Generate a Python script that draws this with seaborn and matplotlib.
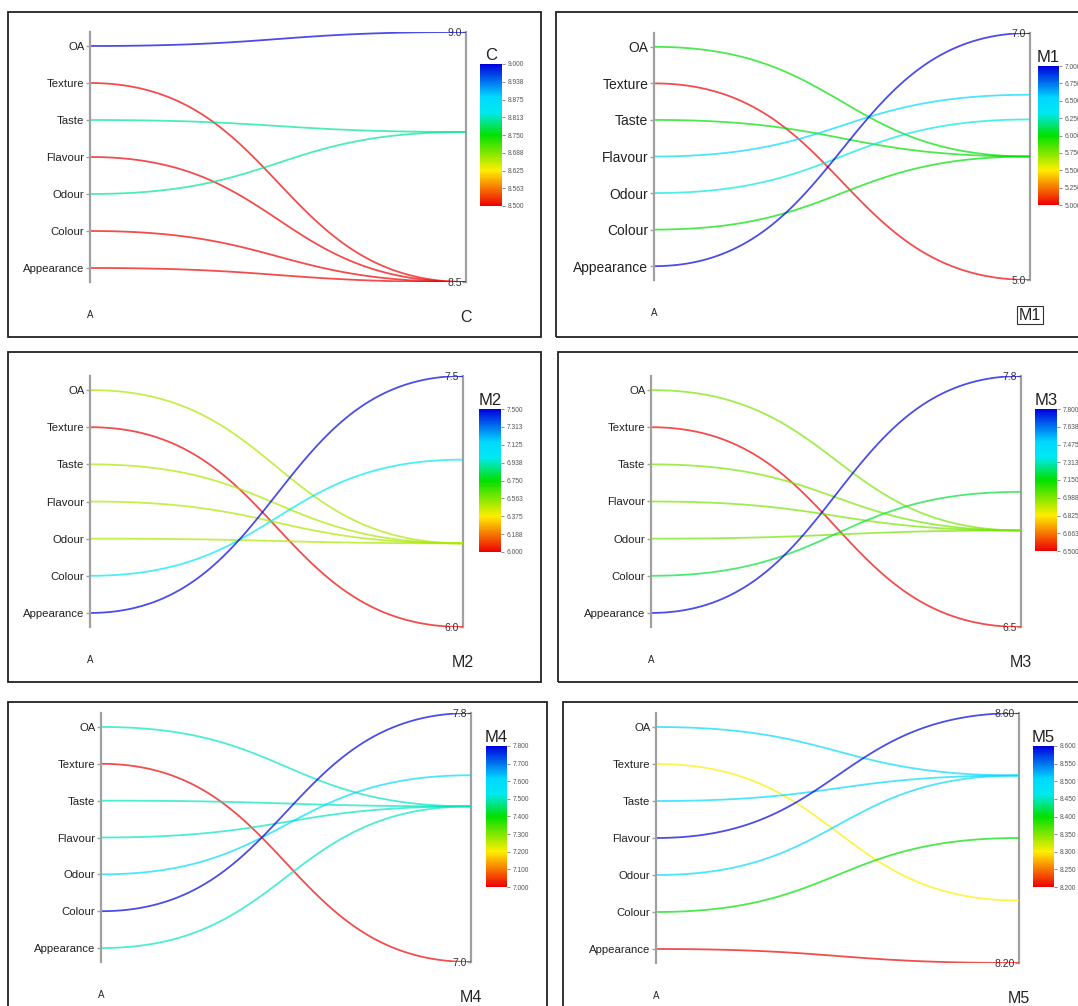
import numpy as np
import pandas as pd
import matplotlib
matplotlib.use("Agg")
import matplotlib.pyplot as plt
from matplotlib.colors import LinearSegmentedColormap, Normalize
from matplotlib.cm import ScalarMappable
from matplotlib.patches import Rectangle
from decimal import Decimal, ROUND_HALF_UP
import seaborn as sns

sns.set_style("white")
plt.rcParams['font.family'] = ['Liberation Sans', 'DejaVu Sans']

# ---------------- data ----------------
attributes = ["OA", "Texture", "Taste", "Flavour", "Odour", "Colour", "Appearance"]
samples = ["C", "M1", "M2", "M3", "M4", "M5"]
C_scores = [9.0, 8.5, 8.8, 8.5, 8.8, 8.5, 8.5]
M1_scores = [6.0, 5.0, 6.0, 6.5, 6.3, 6.0, 7.0]
M2_scores = [6.5, 6.0, 6.5, 6.5, 6.5, 7.0, 7.5]
M3_scores = [7.0, 6.5, 7.0, 7.0, 7.0, 7.2, 7.8]
M4_scores = [7.5, 7.0, 7.5, 7.5, 7.6, 7.8, 7.5]
M5_scores = [8.5, 8.3, 8.5, 8.6, 8.5, 8.4, 8.2]
scale_min = [8.5, 5.0, 6.0, 6.5, 7.0, 8.2]
scale_max = [9.0, 7.0, 7.5, 7.8, 7.8, 8.6]
axis_fmt = ["{:.1f}", "{:.1f}", "{:.1f}", "{:.1f}", "{:.1f}", "{:.2f}"]
scores = [C_scores, M1_scores, M2_scores, M3_scores, M4_scores, M5_scores]

# ---------------- layout (pixels) ----------------
W, H = 1078, 1006
layout = [
    dict(border=(8, 12, 541, 337), xl=90, xr=466, T=32, B=282, cb=(480, 502, 64, 206), fs=8.2),
    dict(border=(556, 12, 1090, 337), xl=654, xr=1030, T=33, B=280, cb=(1038, 1059, 66, 205), fs=10),
    dict(border=(8, 352, 541, 682), xl=90, xr=463, T=376, B=627, cb=(479, 501, 409, 552), fs=8.2),
    dict(border=(558, 352, 1090, 682), xl=651, xr=1021, T=376, B=627, cb=(1035, 1057, 409, 551), fs=8.2),
    dict(border=(8, 702, 547, 1020), xl=101, xr=471, T=713, B=962, cb=(486, 507, 746, 887), fs=8.2),
    dict(border=(563, 702, 1090, 1020), xl=656, xr=1019, T=713, B=963, cb=(1033, 1054, 746, 887), fs=8.2),
]

cmap = LinearSegmentedColormap.from_list(
    "rainbow_r", [(0.0, "#ee0000"), (0.25, "#ffee00"), (0.5, "#00e000"),
                  (0.66, "#00e8f0"), (0.77, "#00d8ff"), (1.0, "#0000dd")])

fig = plt.figure(figsize=(W / 100, H / 100), dpi=100)

def fig_rect(x0, x1, y0, y1):
    return [x0 / W, 1 - y1 / H, (x1 - x0) / W, (y1 - y0) / H]

def fmt3(t):
    return str(Decimal(str(round(float(t), 6))).quantize(Decimal("0.001"), rounding=ROUND_HALF_UP))

pad_frac = 0.056
n = len(attributes)
step = (1 - 2 * pad_frac) / (n - 1)
s = np.linspace(0, 1, 80)
c = 0.5

for k, (name, vals) in enumerate(zip(samples, scores)):
    L = layout[k]
    vmin, vmax = scale_min[k], scale_max[k]
    bx0, by0, bx1, by1 = L["border"]
    fig.patches.append(Rectangle((bx0 / W, 1 - by1 / H), (bx1 - bx0) / W, (by1 - by0) / H,
                                 transform=fig.transFigure, fill=False,
                                 edgecolor="#222222", linewidth=1.3))

    ax = fig.add_axes(fig_rect(L["xl"], L["xr"], L["T"], L["B"]))
    ax.set_xlim(0, 1)
    ax.set_ylim(vmin, vmax)

    cat_pos = [vmin + (1 - pad_frac - i * step) * (vmax - vmin) for i in range(n)]
    rows = []
    for i, (a, v) in enumerate(zip(attributes, vals)):
        y0, y1 = cat_pos[i], v
        xs = 3 * (1 - s) ** 2 * s * c + 3 * (1 - s) * s ** 2 * (1 - c) + s ** 3
        ys = (1 - s) ** 3 * y0 + 3 * (1 - s) ** 2 * s * y0 + 3 * (1 - s) * s ** 2 * y1 + s ** 3 * y1
        for xx, yy in zip(xs, ys):
            rows.append(dict(x=xx, y=yy, attr=a, value=v))
    df = pd.DataFrame(rows)
    sns.lineplot(data=df, x="x", y="y", hue="value", units="attr", estimator=None,
                 sort=False, palette=cmap, hue_norm=(vmin, vmax), legend=False,
                 ax=ax, linewidth=1.3, alpha=0.7)
    ax.set_xlabel("")
    ax.set_ylabel("")

    for sp in ["top", "bottom", "right"]:
        ax.spines[sp].set_visible(False)
    ax.spines["left"].set_color("#a0a0a0")
    ax.spines["left"].set_linewidth(1.6)
    ax.set_yticks(cat_pos)
    ax.set_yticklabels(attributes, fontsize=L["fs"], color="#222222")
    ax.tick_params(axis="y", which="both", left=True, length=3, width=1,
                   color="#a0a0a0", pad=1)

    ax.set_xticks([0, 1])
    ax.set_xticklabels(["A", name])
    ax.tick_params(axis="x", length=0, pad=20)
    xl = ax.get_xticklabels()
    xl[0].set_fontsize(7)
    xl[1].set_fontsize(11.5)
    if name == "M1":
        xl[1].set_bbox(dict(facecolor="none", edgecolor="#333333", pad=1.0, linewidth=0.8))

    sec = ax.secondary_yaxis("right")
    sec.spines["right"].set_color("#a0a0a0")
    sec.spines["right"].set_linewidth(1.6)
    sec.set_yticks([vmin, vmax])
    sec.set_yticklabels([axis_fmt[k].format(vmin), axis_fmt[k].format(vmax)],
                        fontsize=7.5, color="#333333")
    sec.tick_params(axis="y", direction="in", length=3, width=1, color="#a0a0a0", pad=-3)
    for lbl in sec.get_yticklabels():
        lbl.set_horizontalalignment("right")

    cx0, cx1, cy0, cy1 = L["cb"]
    cax = fig.add_axes(fig_rect(cx0, cx1, cy0, cy1))
    sm = ScalarMappable(norm=Normalize(vmin, vmax), cmap=cmap)
    cb = fig.colorbar(sm, cax=cax)
    ticks = np.linspace(vmin, vmax, 9)
    cb.set_ticks(ticks)
    cb.ax.set_yticklabels([fmt3(t) for t in ticks], fontsize=4.8, color="#555555")
    cb.ax.tick_params(length=2.5, width=0.6, color="#777777", pad=1.5)
    cb.outline.set_visible(False)
    cax.set_title(name, fontsize=12, pad=3, color="#222222")

fig.savefig("out.png", dpi=100)
